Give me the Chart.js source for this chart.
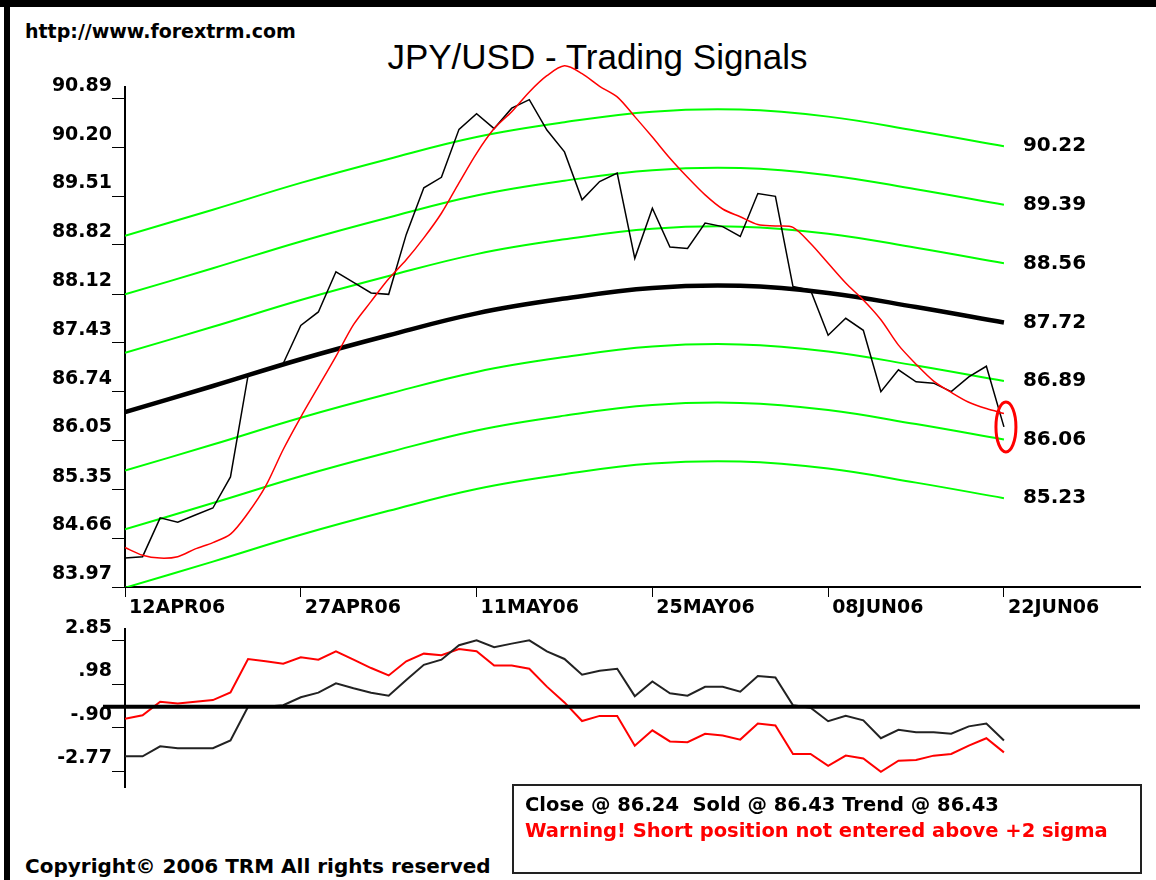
<!DOCTYPE html>
<html lang="en">
<head>
<meta charset="UTF-8">
<title>JPY/USD - Trading Signals</title>
<script src="https://cdn.jsdelivr.net/npm/chart.js@4.4.1/dist/chart.umd.min.js"></script>
<style>
  html, body { margin: 0; padding: 0; background: #fff; }
  #frame { position: relative; width: 1156px; height: 880px; overflow: hidden; background: #fff;
           font-family: "DejaVu Sans", sans-serif; font-weight: bold; color: #000; }
  .edge-top { position: absolute; left: 0; top: 0; width: 1156px; height: 7px; background: #000; }
  .edge-left { position: absolute; left: 4px; top: 0; width: 6px; height: 880px; background: #000; }
  #site { position: absolute; left: 25px; top: 19px; font-size: 19px; line-height: 24px; }
  #title { position: absolute; left: 0; top: 37px; width: 1195px; text-align: center;
           font: 35px "Liberation Sans", Arial, sans-serif; line-height: 40px; }
  canvas { position: absolute; left: 0; }
  #mainChart { top: 0; }
  #oscChart { top: 600px; }
  #info { position: absolute; left: 512px; top: 784px; width: 626px; height: 86px;
          border: 2px solid #222; font-size: 19.5px; line-height: 26px; }
  #info .l1 { position: absolute; left: 11px; top: 6px; white-space: pre; }
  #info .l2 { position: absolute; left: 11px; top: 32px; color: #ff0000; white-space: pre; }
  #copy { position: absolute; left: 25px; top: 854px; font-size: 20px; line-height: 24px; }
</style>
</head>
<body>
<div id="frame">
  <div class="edge-top"></div>
  <div class="edge-left"></div>
  <div id="site">http://www.forextrm.com</div>
  <div id="title">JPY/USD - Trading Signals</div>
  <canvas id="mainChart" width="1156" height="640"></canvas>
  <canvas id="oscChart" width="1156" height="200"></canvas>
  <div id="info">
    <div class="l1">Close @ 86.24  Sold @ 86.43 Trend @ 86.43</div>
    <div class="l2">Warning! Short position not entered above +2 sigma</div>
  </div>
  <div id="copy">Copyright© 2006 TRM All rights reserved</div>
</div>

<script>
// ---- data (one value per trading day, day 0 = 12APR06) ----
const closePrice = [84.38, 84.40, 84.95, 84.89, 84.99, 85.09, 85.53, 86.97, 87.06, 87.14,
  87.68, 87.87, 88.44, 88.29, 88.14, 88.12, 88.97, 89.63, 89.78, 90.46,
  90.68, 90.47, 90.76, 90.88, 90.45, 90.14, 89.46, 89.72, 89.84, 88.63,
  89.34, 88.79, 88.77, 89.13, 89.08, 88.94, 89.55, 89.51, 88.23, 88.18,
  87.54, 87.78, 87.61, 86.74, 87.05, 86.88, 86.86, 86.74, 86.95, 87.10,
  86.24];

const smoothPrice = [84.53, 84.42, 84.38, 84.40, 84.51, 84.60, 84.72, 85.02, 85.40, 85.92,
  86.38, 86.81, 87.24, 87.69, 88.02, 88.34, 88.61, 88.92, 89.27, 89.70,
  90.12, 90.47, 90.71, 90.99, 91.22, 91.36, 91.25, 91.07, 90.92, 90.64,
  90.35, 90.05, 89.78, 89.53, 89.33, 89.22, 89.11, 89.09, 89.07, 88.84,
  88.56, 88.28, 88.04, 87.76, 87.40, 87.13, 86.89, 86.73, 86.59, 86.50,
  86.43];

// trend curve and the sigma bands, sampled every 5 days
const bandDays = [0, 5, 10, 15, 20, 25, 30, 35, 40, 45, 50];
const trend    = [86.45, 86.82, 87.20, 87.54, 87.85, 88.06, 88.21, 88.24, 88.14, 87.94, 87.72];
const plus3    = [88.95, 89.32, 89.70, 90.04, 90.35, 90.56, 90.71, 90.74, 90.64, 90.44, 90.22];
const plus2    = [88.12, 88.49, 88.87, 89.21, 89.52, 89.73, 89.88, 89.91, 89.81, 89.61, 89.39];
const plus1    = [87.29, 87.66, 88.04, 88.38, 88.69, 88.90, 89.05, 89.08, 88.98, 88.78, 88.56];
const minus1   = [85.62, 85.99, 86.37, 86.71, 87.02, 87.23, 87.38, 87.41, 87.31, 87.11, 86.89];
const minus2   = [84.79, 85.16, 85.54, 85.88, 86.19, 86.40, 86.55, 86.58, 86.48, 86.28, 86.06];
const minus3   = [83.96, 84.33, 84.71, 85.05, 85.36, 85.57, 85.72, 85.75, 85.65, 85.45, 85.23];

// lower oscillator panel
const oscBlack = [-2.13, -2.13, -1.70, -1.78, -1.78, -1.78, -1.45, 0.00, 0.00, 0.07,
  0.41, 0.61, 1.01, 0.80, 0.61, 0.48, 1.16, 1.81, 2.03, 2.65,
  2.86, 2.57, 2.72, 2.86, 2.39, 2.06, 1.38, 1.55, 1.64, 0.46,
  1.09, 0.58, 0.48, 0.86, 0.86, 0.65, 1.33, 1.26, 0.07, -0.04,
  -0.62, -0.39, -0.58, -1.35, -0.99, -1.09, -1.09, -1.16, -0.84, -0.72,
  -1.45];
const oscRed = [-0.51, -0.36, 0.22, 0.14, 0.22, 0.29, 0.62, 2.06, 1.96, 1.86,
  2.13, 2.03, 2.39, 2.03, 1.67, 1.35, 1.96, 2.29, 2.22, 2.49,
  2.39, 1.78, 1.78, 1.64, 0.87, 0.19, -0.61, -0.39, -0.39, -1.67,
  -1.01, -1.49, -1.52, -1.16, -1.23, -1.41, -0.72, -0.80, -2.03, -2.03,
  -2.54, -2.10, -2.22, -2.80, -2.32, -2.29, -2.10, -2.03, -1.67, -1.35,
  -1.96];

// axes
const dateTicks  = [0, 10, 20, 30, 40, 50];
const dateLabels = ['12APR06', '27APR06', '11MAY06', '25MAY06', '08JUN06', '22JUN06'];
const priceTicks = [83.97, 84.66, 85.35, 86.05, 86.74, 87.43, 88.12, 88.82, 89.51, 90.20, 90.89];
const priceTickLabels = ['83.97', '84.66', '85.35', '86.05', '86.74', '87.43', '88.12', '88.82', '89.51', '90.20', '90.89'];
const oscTicks = [2.85, 0.98, -0.90, -2.77];
const oscTickLabels = ['2.85', '.98', '-.90', '-2.77'];

Chart.defaults.font.family = '"DejaVu Sans", sans-serif';
Chart.defaults.color = '#000';

function daily(arr) {
  return arr.map(function (v, i) { return { x: i, y: v }; });
}
function banded(arr) {
  return arr.map(function (v, i) { return { x: bandDays[i], y: v }; });
}

const tickFont = { family: '"DejaVu Sans", sans-serif', size: 19, weight: 'bold' };

// right hand band values + red ring round the last close
const bandLabels = {
  id: 'bandLabels',
  afterDatasetsDraw(chart) {
    const ctx = chart.ctx, xs = chart.scales.x, ys = chart.scales.y;
    const lastX = xs.getPixelForValue(bandDays[bandDays.length - 1]);
    ctx.save();
    ctx.font = 'bold 20px "DejaVu Sans", sans-serif';
    ctx.fillStyle = '#000';
    ctx.textBaseline = 'middle';
    [plus3, plus2, plus1, trend, minus1, minus2, minus3].forEach(function (s) {
      const v = s[s.length - 1];
      ctx.fillText(v.toFixed(2), lastX + 19, ys.getPixelForValue(v));
    });
    const li = closePrice.length - 1;
    ctx.strokeStyle = '#ff0000';
    ctx.lineWidth = 3;
    ctx.beginPath();
    ctx.ellipse(xs.getPixelForValue(li) + 2, ys.getPixelForValue(closePrice[li]), 10, 25, 0, 0, Math.PI * 2);
    ctx.stroke();
    ctx.restore();
  }
};

new Chart(document.getElementById('mainChart'), {
  type: 'line',
  data: {
    datasets: [
      { data: daily(smoothPrice), borderColor: '#ff0000', borderWidth: 1.5, tension: 0.3, clip: false },
      { data: daily(closePrice), borderColor: '#000', borderWidth: 1.5, tension: 0 },
      { data: banded(trend), borderColor: '#000', borderWidth: 4.5, tension: 0.4 },
      { data: banded(plus3), borderColor: '#00ff00', borderWidth: 2, tension: 0.4 },
      { data: banded(plus2), borderColor: '#00ff00', borderWidth: 2, tension: 0.4 },
      { data: banded(plus1), borderColor: '#00ff00', borderWidth: 2, tension: 0.4 },
      { data: banded(minus1), borderColor: '#00ff00', borderWidth: 2, tension: 0.4 },
      { data: banded(minus2), borderColor: '#00ff00', borderWidth: 2, tension: 0.4 },
      { data: banded(minus3), borderColor: '#00ff00', borderWidth: 2, tension: 0.4 }
    ]
  },
  options: {
    responsive: false,
    animation: false,
    events: [],
    layout: { padding: { top: 87, right: 16, bottom: 13, left: 0 } },
    elements: { point: { radius: 0 } },
    plugins: { legend: { display: false }, tooltip: { enabled: false } },
    scales: {
      x: {
        type: 'linear', min: 0, max: 57.74,
        afterFit: function (s) { s.height = 40; },
        afterBuildTicks: function (s) { s.ticks = dateTicks.map(function (v) { return { value: v }; }); },
        grid: { drawOnChartArea: false, drawTicks: true, tickLength: 10, color: '#000' },
        border: { display: true, color: '#000', width: 2 },
        ticks: {
          align: 'start', labelOffset: 4, padding: 0, maxRotation: 0, autoSkip: false, font: tickFont,
          callback: function (v, i) { return dateLabels[i]; }
        }
      },
      y: {
        min: 83.97, max: 91.06,
        afterFit: function (s) { s.width = 125; },
        afterBuildTicks: function (s) { s.ticks = priceTicks.map(function (v) { return { value: v }; }); },
        grid: { drawOnChartArea: false, drawTicks: true, tickLength: 13, color: '#000' },
        border: { display: true, color: '#000', width: 2 },
        ticks: {
          padding: 0, labelOffset: -13, font: tickFont,
          callback: function (v, i) { return priceTickLabels[i]; }
        }
      }
    }
  },
  plugins: [bandLabels]
});

// zero line of the oscillator, drawn over the two lines
const zeroLine = {
  id: 'zeroLine',
  afterDatasetsDraw(chart) {
    const ctx = chart.ctx, area = chart.chartArea;
    const y0 = chart.scales.y.getPixelForValue(0);
    ctx.save();
    ctx.strokeStyle = '#000';
    ctx.lineWidth = 4;
    ctx.beginPath();
    ctx.moveTo(area.left - 22, y0);
    ctx.lineTo(area.right, y0);
    ctx.stroke();
    ctx.restore();
  }
};

new Chart(document.getElementById('oscChart'), {
  type: 'line',
  data: {
    datasets: [
      { data: daily(oscBlack), borderColor: '#222', borderWidth: 2, tension: 0 },
      { data: daily(oscRed), borderColor: '#ff0000', borderWidth: 2, tension: 0 }
    ]
  },
  options: {
    responsive: false,
    animation: false,
    events: [],
    layout: { padding: { top: 29, right: 16, bottom: 13, left: 0 } },
    elements: { point: { radius: 0 } },
    plugins: { legend: { display: false }, tooltip: { enabled: false } },
    scales: {
      x: { type: 'linear', min: 0, max: 57.74, display: false },
      y: {
        min: -3.45, max: 3.35,
        afterFit: function (s) { s.width = 125; },
        afterBuildTicks: function (s) { s.ticks = oscTicks.map(function (v) { return { value: v }; }); },
        grid: { drawOnChartArea: false, drawTicks: true, tickLength: 13, color: '#000' },
        border: { display: true, color: '#000', width: 2 },
        ticks: {
          padding: 0, labelOffset: -13, font: tickFont,
          callback: function (v, i) { return oscTickLabels[i]; }
        }
      }
    }
  },
  plugins: [zeroLine]
});
</script>
</body>
</html>
